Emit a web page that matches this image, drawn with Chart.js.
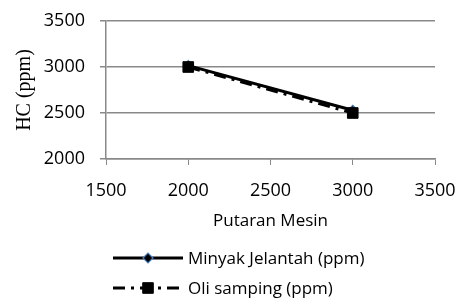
<!DOCTYPE html>
<html>
<head>
<meta charset="utf-8">
<script src="https://cdn.jsdelivr.net/npm/chart.js@4.4.1/dist/chart.umd.min.js"></script>
<style>
  html, body { margin: 0; padding: 0; background: #fff; }
  #wrap { width: 458px; height: 301px; }
</style>
</head>
<body>
<div id="wrap"><canvas id="hcChart" width="458" height="301"></canvas></div>
<script>
// data
const putaranMesin = [2000, 3000];
const minyakJelantah = [3015, 2530];
const oliSamping = [3000, 2500];
const xTicks = [1500, 2000, 2500, 3000, 3500];
const yTicks = [2000, 2500, 3000, 3500];
const seriesNames = ['Minyak Jelantah (ppm)', 'Oli samping (ppm)'];

const labelFont = { family: 'Open Sans', size: 18 };
const gridGray = '#898989';

// legend drawn under the axis title, line + marker like the original
const lineLegend = {
  id: 'lineLegend',
  afterDraw(chart) {
    const ctx = chart.ctx;
    const rows = [258, 288];
    chart.data.datasets.forEach((ds, i) => {
      const y = rows[i];
      ctx.save();
      ctx.strokeStyle = ds.borderColor;
      ctx.lineWidth = ds.borderWidth;
      ctx.setLineDash(ds.borderDash || []);
      ctx.beginPath();
      ctx.moveTo(113, y);
      ctx.lineTo(183, y);
      ctx.stroke();
      ctx.setLineDash([]);
      ctx.fillStyle = ds.pointBackgroundColor;
      ctx.strokeStyle = ds.pointBorderColor;
      ctx.lineWidth = ds.pointBorderWidth;
      Chart.helpers.drawPoint(ctx, {
        pointStyle: ds.pointStyle,
        radius: ds.pointRadius,
        borderWidth: ds.pointBorderWidth,
        rotation: 0
      }, 148, y);
      ctx.fillStyle = '#000';
      ctx.font = '17px "Open Sans"';
      ctx.textBaseline = 'middle';
      ctx.fillText(ds.label, 188, y + 1);
      ctx.restore();
    });
  }
};

const ctx = document.getElementById('hcChart').getContext('2d');
new Chart(ctx, {
  type: 'line',
  data: {
    datasets: [
      {
        label: seriesNames[0],
        data: putaranMesin.map((x, i) => ({ x: x, y: minyakJelantah[i] })),
        borderColor: '#000',
        borderWidth: 3,
        pointStyle: 'rectRot',
        pointRadius: 5,
        pointBorderWidth: 1.2,
        pointBackgroundColor: '#000',
        pointBorderColor: '#4a7ebb',
        order: 1
      },
      {
        label: seriesNames[1],
        data: putaranMesin.map((x, i) => ({ x: x, y: oliSamping[i] })),
        borderColor: '#000',
        borderWidth: 3,
        borderDash: [12, 6, 3, 6],
        pointStyle: 'rect',
        pointRadius: 7.5,
        pointBorderWidth: 1,
        pointBackgroundColor: '#000',
        pointBorderColor: '#000',
        order: 0
      }
    ]
  },
  options: {
    responsive: false,
    animation: false,
    layout: { padding: { top: 21, right: 23, bottom: 66, left: 0 } },
    plugins: {
      legend: { display: false },
      tooltip: { enabled: false }
    },
    scales: {
      x: {
        type: 'linear',
        min: 1500,
        max: 3500,
        afterBuildTicks: axis => { axis.ticks = xTicks.map(v => ({ value: v })); },
        afterFit: axis => {
          axis.height = 76;
          axis.paddingLeft = 0;
          axis.paddingRight = 0;
        },
        grid: { drawOnChartArea: false, color: gridGray, tickLength: 6 },
        border: { color: gridGray, width: 1.5 },
        ticks: { color: '#000', font: labelFont, padding: 15, maxRotation: 0, callback: v => String(v) },
        title: { display: true, text: 'Putaran Mesin', color: '#000', font: { family: 'Open Sans', size: 17 }, padding: { top: 2 } }
      },
      y: {
        min: 2000,
        max: 3500,
        afterBuildTicks: axis => { axis.ticks = yTicks.map(v => ({ value: v })); },
        afterFit: axis => {
          axis.width = 106;
          axis.paddingTop = 0;
          axis.paddingBottom = 0;
        },
        grid: { color: gridGray, lineWidth: 1.5, tickLength: 6 },
        border: { color: gridGray, width: 1.5 },
        ticks: { color: '#000', font: labelFont, padding: 15, callback: v => String(v) },
        title: { display: true, text: 'HC (ppm)', color: '#000', font: { family: 'Liberation Serif', size: 20 }, padding: { top: 13 } }
      }
    }
  },
  plugins: [lineLegend]
});
</script>
</body>
</html>
